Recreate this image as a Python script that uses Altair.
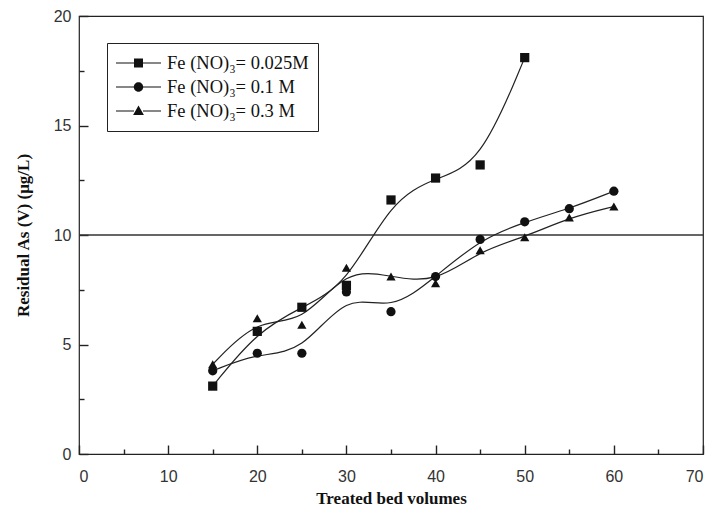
import altair as alt
import pandas as pd

series = ["Fe (NO)\u2083= 0.025M", "Fe (NO)\u2083= 0.1 M", "Fe (NO)\u2083= 0.3 M"]
bv_a = [15, 20, 25, 30, 35, 40, 45, 50]
as_a = [3.1, 5.6, 6.7, 7.7, 11.6, 12.6, 13.2, 18.1]
bv_b = [15, 20, 25, 30, 35, 40, 45, 50, 55, 60]
as_b = [3.8, 4.6, 4.6, 7.4, 6.5, 8.1, 9.8, 10.6, 11.2, 12.0]
bv_c = [15, 20, 25, 30, 35, 40, 45, 50, 55, 60]
as_c = [4.1, 6.2, 5.9, 8.5, 8.1, 7.8, 9.3, 9.9, 10.8, 11.3]
threshold = [10]
x_major = [0, 10, 20, 30, 40, 50, 60, 70]
x_minor = [5, 15, 25, 35, 45, 55, 65]
y_major = [0, 5, 10, 15, 20]
y_minor = [2.5, 7.5, 12.5, 17.5]

rows = []
for s, xs_, ys_ in zip(series, [bv_a, bv_b, bv_c], [as_a, as_b, as_c]):
    for xv, yv in zip(xs_, ys_):
        rows.append({"series": s, "bv": xv, "as": yv})
df = pd.DataFrame(rows)

xs = alt.Scale(domain=[0, 70], nice=False)
ys = alt.Scale(domain=[0, 20], nice=False)

# ticks point inward: each axis is shifted into the plot by its tick length
x_major_enc = alt.X(
    "bv:Q", scale=xs,
    axis=alt.Axis(
        title="Treated bed volumes", orient="bottom", values=x_major, grid=False,
        domain=False, offset=-9, ticks=True, tickSize=9,
        labelPadding=14, titlePadding=6,
    ),
)
y_major_enc = alt.Y(
    "as:Q", scale=ys,
    axis=alt.Axis(
        title="Residual As (V) (\u03bcg/L)", orient="left", values=y_major, grid=False,
        domain=False, offset=-9, ticks=True, tickSize=9,
        labelPadding=8, titlePadding=21,
    ),
)
x_minor_enc = alt.X(
    "bv:Q", scale=xs,
    axis=alt.Axis(
        title=None, orient="bottom", values=x_minor, grid=False, labels=False,
        domain=False, offset=-5, ticks=True, tickSize=5,
    ),
)
y_minor_enc = alt.Y(
    "as:Q", scale=ys,
    axis=alt.Axis(
        title=None, orient="left", values=y_minor, grid=False, labels=False,
        domain=False, offset=-5, ticks=True, tickSize=5,
    ),
)

# legend symbols: line - marker - line (drawn as filled shapes)
seg = "M-1,-0.026H-0.2V0.026H-1ZM0.2,-0.026H1V0.026H0.2Z"
p0 = seg + "M-0.2,-0.2H0.2V0.2H-0.2Z"
p1 = seg + "M0.21,0A0.21,0.21 0 1,1 -0.21,0A0.21,0.21 0 1,1 0.21,0Z"
p2 = seg + "M0,-0.25L0.24,0.18L-0.24,0.18Z"

base = alt.Chart(df)

lines = base.mark_line(interpolate="basis", color="#222", strokeWidth=1.2).encode(
    x=x_minor_enc, y=y_minor_enc, detail="series:N"
)
points = base.mark_point(filled=True, color="#111", opacity=1, size=85).encode(
    x=x_major_enc,
    y=y_major_enc,
    shape=alt.Shape(
        "series:N",
        scale=alt.Scale(domain=series, range=["square", "circle", "triangle-up"]),
        legend=None,
    ),
)
legend_layer = base.mark_point(filled=True, color="#111", opacity=1, size=0).encode(
    x=alt.X("bv:Q", scale=xs, axis=None),
    y=alt.Y("as:Q", scale=ys, axis=None),
    shape=alt.Shape(
        "series:N",
        scale=alt.Scale(domain=series, range=[p0, p1, p2]),
        legend=alt.Legend(
            title=None, orient="none", legendX=28, legendY=27, strokeColor="#222",
            padding=9, labelFont="Liberation Serif", labelFontSize=18.5, labelColor="#111",
            labelOffset=6, symbolSize=2025, symbolFillColor="#111", symbolStrokeWidth=0,
            clipHeight=22, rowPadding=2,
        ),
    ),
)
rule = alt.Chart(pd.DataFrame({"t": threshold})).mark_rule(color="#333", strokeWidth=1.5).encode(
    y=alt.Y("t:Q", scale=ys, axis=None)
)

chart = (
    alt.layer(rule, lines, points, legend_layer)
    .resolve_scale(shape="independent")
    .resolve_axis(x="independent", y="independent")
    .properties(
        width=624, height=438, autosize="none",
        padding={"left": 71, "top": 8, "right": 3, "bottom": 54},
    )
    .configure_view(stroke="#222", strokeWidth=1.2)
    .configure_axis(
        labelFont="Liberation Sans", labelFontSize=16, labelColor="#333",
        titleFont="Liberation Serif", titleFontSize=17, titleFontWeight="bold",
        titleColor="#111", domainColor="#222", tickColor="#222", tickWidth=1.4,
    )
)

chart.save("out.html", embed_options={"renderer": "svg", "actions": False})
